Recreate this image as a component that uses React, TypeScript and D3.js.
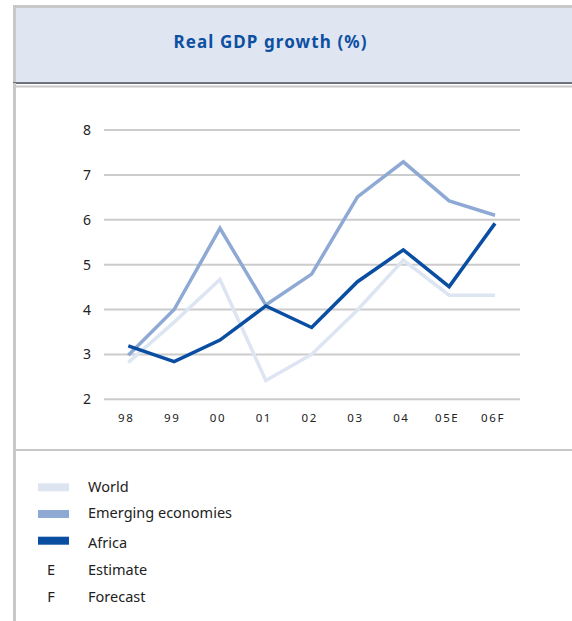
import React from "react";
import * as d3 from "d3";

const years = ["98", "99", "00", "01", "02", "03", "04", "05E", "06F"];
const world = [2.82, 3.72, 4.67, 2.42, 3.0, 3.99, 5.1, 4.32, 4.32];
const emerging = [2.98, 4.0, 5.81, 4.1, 4.79, 6.51, 7.29, 6.42, 6.1];
const africa = [3.19, 2.84, 3.32, 4.08, 3.6, 4.62, 5.33, 4.51, 5.92];
const yTicks = [2, 3, 4, 5, 6, 7, 8];

const seriesList = [
  { name: "World", values: world, color: "#dce5f1", width: 3.5 },
  { name: "Emerging economies", values: emerging, color: "#8fa9d5", width: 3.5 },
  { name: "Africa", values: africa, color: "#0a4ea2", width: 3.5 },
];
const notes = [
  { key: "E", label: "Estimate" },
  { key: "F", label: "Forecast" },
];

const W = 572;
const H = 621;

export default function App() {
  const x = d3.scalePoint<string>().domain(years).range([128.3, 495]);
  const y = d3.scaleLinear().domain([2, 8]).range([399.3, 130]);
  const line = d3
    .line<number>()
    .x((_, i) => x(years[i]) as number)
    .y((d) => y(d));
  const font = "'Noto Sans', 'Open Sans', sans-serif";
  const text = "#222";
  return (
    <svg
      width={W}
      height={H}
      style={{ position: "absolute", left: 0, top: 0, background: "#fff" }}
      fontFamily={font}
    >
      {/* header */}
      <rect x={14.5} y={6.5} width={W} height={76} fill="#dfe6f1" stroke="#c8c8c8" strokeWidth={3} />
      <rect x={16} y={8} width={W} height={74.5} fill="#dfe6f1" />
      <line x1={13} x2={W} y1={83} y2={83} stroke="#4b5560" strokeWidth={1.3} />
      <line x1={16} x2={W} y1={86.5} y2={86.5} stroke="#c8c8c8" strokeWidth={2} />
      <text x={270.5} y={48} textAnchor="middle" fontSize={17} fontWeight={700} letterSpacing={1.1} fill="#0d4fa1">
        Real GDP growth (%)
      </text>
      {/* left border lower */}
      <line x1={14.5} x2={14.5} y1={83} y2={H} stroke="#c8c8c8" strokeWidth={3} />
      {/* separator */}
      <line x1={16} x2={W} y1={450} y2={450} stroke="#c8c8c8" strokeWidth={2} />

      {/* grid */}
      {yTicks.map((t) => (
        <g key={t}>
          <line x1={104} x2={520} y1={y(t)} y2={y(t)} stroke="#cccccc" strokeWidth={2} />
          <text x={91} y={y(t) + 5} textAnchor="end" fontSize={14} fill={text}>
            {t}
          </text>
        </g>
      ))}
      {years.map((yr) => (
        <text
          key={yr}
          x={(x(yr) as number) - 2}
          y={422}
          textAnchor="middle"
          fontSize={11.5}
          letterSpacing={1.6}
          fill={text}
        >
          {yr}
        </text>
      ))}
      {seriesList.map((s) => (
        <path
          key={s.name}
          d={line(s.values) || ""}
          fill="none"
          stroke={s.color}
          strokeWidth={s.width}
          strokeLinejoin="miter"
        />
      ))}

      {/* legend */}
      {seriesList.map((s, i) => {
        const ty = [492, 518, 548][i];
        const sy = [483.3, 510, 536.7][i];
        return (
          <g key={s.name}>
            <rect x={38} y={sy} width={31} height={8} fill={s.color} />
            <text x={88} y={ty} fontSize={14.5} fill={text}>
              {s.name}
            </text>
          </g>
        );
      })}
      {notes.map((n, i) => {
        const ty = [575, 602][i];
        return (
          <g key={n.key}>
            <text x={51} y={ty} textAnchor="middle" fontSize={14.5} fill={text}>
              {n.key}
            </text>
            <text x={88} y={ty} fontSize={14.5} fill={text}>
              {n.label}
            </text>
          </g>
        );
      })}
    </svg>
  );
}
